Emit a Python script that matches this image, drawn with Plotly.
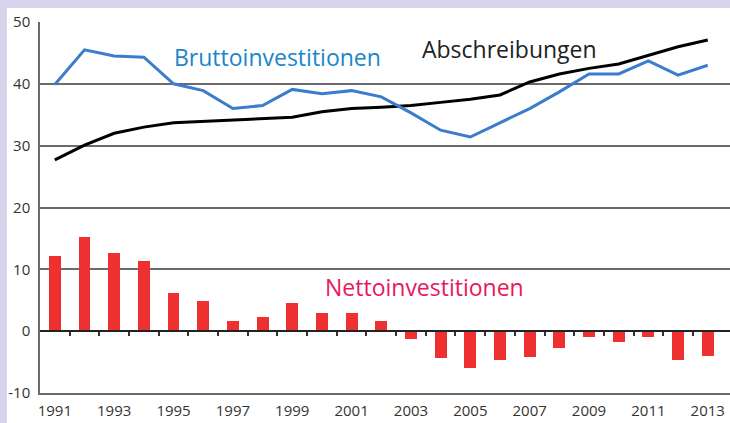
import plotly.graph_objects as go

years = list(range(1991, 2014))
brutto = [39.9, 45.5, 44.5, 44.3, 40.0, 38.9, 36.0, 36.5, 39.1, 38.4, 38.9, 37.9, 35.3,
          32.5, 31.4, 33.7, 36.0, 38.7, 41.6, 41.6, 43.7, 41.4, 43.0]
abschreibungen = [27.7, 30.1, 32.0, 33.0, 33.7, 33.9, 34.1, 34.3, 34.6, 35.5, 36.0, 36.2, 36.5,
                  37.0, 37.5, 38.2, 40.3, 41.6, 42.5, 43.2, 44.6, 46.0, 47.1]
netto = [12.1, 15.3, 12.7, 11.4, 6.2, 4.9, 1.7, 2.3, 4.5, 2.9, 2.9, 1.6, -1.2,
         -4.3, -5.9, -4.6, -4.2, -2.8, -1.0, -1.7, -0.9, -4.7, -4.0]
year_ticks = [1991, 1993, 1995, 1997, 1999, 2001, 2003, 2005, 2007, 2009, 2011, 2013]
y_ticks = [-10, 0, 10, 20, 30, 40, 50]
boundaries = [y + 0.5 for y in years[:-1]]

FONT = "Open Sans"
fig = go.Figure()

fig.add_trace(go.Bar(x=years, y=netto, width=0.4, marker=dict(color="#ee3030", line=dict(width=0)),
                     showlegend=False))
fig.add_trace(go.Scatter(x=years, y=abschreibungen, mode="lines",
                         line=dict(color="#000000", width=3), showlegend=False))
fig.add_trace(go.Scatter(x=years, y=brutto, mode="lines",
                         line=dict(color="#3b7dcc", width=3), showlegend=False))
# invisible trace for the zero-line tick axis
fig.add_trace(go.Scatter(x=[years[0]], y=[0], xaxis="x2", mode="markers",
                         marker=dict(opacity=0), showlegend=False, hoverinfo="skip"))

# lavender frame strips (top and left) on white page
LAV = "#d6d3ea"
fig.add_shape(type="rect", xref="paper", yref="paper", x0=-0.06, x1=1.01, y0=1.038, y1=1.07,
              fillcolor=LAV, line=dict(width=0), layer="below")
fig.add_shape(type="rect", xref="paper", yref="paper", x0=-0.06, x1=-0.048, y0=-0.1, y1=1.07,
              fillcolor=LAV, line=dict(width=0), layer="below")

fig.update_layout(
    width=730, height=423,
    margin=dict(l=40, r=0, t=22, b=30),
    paper_bgcolor="white",
    plot_bgcolor="white",
    font=dict(family=FONT, size=15, color="#333333"),
    bargap=0,
    xaxis=dict(range=[1990.5, 2013.75], tickvals=year_ticks, ticktext=[str(v) for v in year_ticks],
               showgrid=False, zeroline=False, showline=True, linecolor="#6a6a6a", linewidth=1.5,
               ticks="", ticklabelstandoff=3,
               tickfont=dict(size=15, color="#333333")),
    xaxis2=dict(overlaying="x", anchor="free", position=1/6, range=[1990.5, 2013.75],
                tickvals=boundaries, ticks="outside", ticklen=4, tickwidth=1.5, tickcolor="#333333",
                showticklabels=False, showgrid=False, zeroline=False,
                showline=True, linecolor="#222222", linewidth=1.5, side="bottom"),
    yaxis=dict(range=[-10, 50], tickvals=y_ticks, ticktext=["-10", "0", "10", "20", "30", "40", "50"],
               showgrid=True, gridcolor="#6a6a6a", gridwidth=1.5, zeroline=False,
               showline=True, linecolor="#6a6a6a", linewidth=1.5, ticks="",
               tickfont=dict(size=15, color="#333333"), ticklabelstandoff=5),
)

fig.add_annotation(text="Bruttoinvestitionen", x=(1991 + (278 - 55) / 29.77), y=44.3,
                   xref="x", yref="y", showarrow=False,
                   font=dict(family=FONT, size=23, color="#1a86c9"))
fig.add_annotation(text="Abschreibungen", x=(1991 + (511 - 55) / 29.77), y=45.6,
                   xref="x", yref="y", showarrow=False,
                   font=dict(family=FONT, size=23, color="#222222"))
fig.add_annotation(text="Nettoinvestitionen", x=(1991 + (426 - 55) / 29.77), y=7.1,
                   xref="x", yref="y", showarrow=False,
                   font=dict(family=FONT, size=23, color="#e8185a"))

fig.write_html("out.html", config={"displayModeBar": False},
               post_script="document.body.style.margin='0';document.body.style.overflow='hidden';")
